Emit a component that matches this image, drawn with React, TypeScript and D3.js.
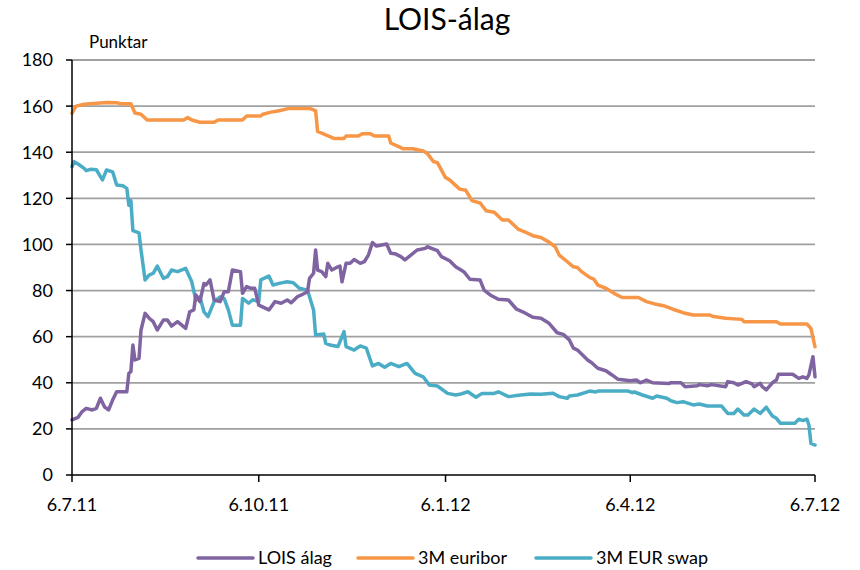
import React from "react";
import * as d3 from "d3";

// Observation days counted from 6 July 2011, and values in basis points
const START_DATE = "2011-07-06";
const END_DATE = "2012-07-06";

const tickDates = ["2011-07-06", "2011-10-06", "2012-01-06", "2012-04-06", "2012-07-06"];
const tickLabels = ["6.7.11", "6.10.11", "6.1.12", "6.4.12", "6.7.12"];
const yTicks = [0, 20, 40, 60, 80, 100, 120, 140, 160, 180];

const seriesNames = ["LOIS álag", "3M euribor", "3M EUR swap"];
const seriesColors = ["#8064A2", "#F79646", "#4BACC6"];

const loisDays = [0,3,5,7,10,12,14,16,18,20,22,27,28,29,30,31,33,34,36,38,40,42,45,47,49,52,56,58,60,61,63,65,66,68,70,73,75,77,79,83,84,86,88,90,92,97,100,103,106,108,111,113,116,117,119,120,121,123,125,126,128,131,132,133,135,137,139,142,144,146,148,150,155,157,159,162,164,166,170,174,175,180,182,186,189,193,196,201,203,206,210,215,219,222,227,231,235,239,242,245,247,249,254,256,259,263,266,269,272,275,278,280,283,286,294,295,300,302,308,309,313,315,322,323,326,328,332,335,336,339,340,342,345,347,348,355,358,360,362,363,365,366];
const loisValues = [23.9,25,27.5,28.9,28.2,28.9,33.3,29.6,28.2,32.5,36.1,36.1,44.1,44.8,56.4,49.9,50.6,62.9,70.1,68,66.5,62.9,67.2,67.2,64.6,66.5,63.6,70.8,71.6,78.1,75.2,83.1,82.4,84.6,75.9,75.2,79.5,79.5,88.9,88.2,78.8,81.7,81,81,73.7,71.6,75.2,74.5,75.9,74.7,77.3,78.1,79.5,85.3,87.5,97.6,88.9,88.2,86,91.8,88.9,90.3,90.6,83.8,91.8,91.8,93.5,91.8,92.5,95.4,100.8,99.3,100.2,96.2,96,94.7,93.3,94.7,97.6,98.3,99,97.3,94.7,92.9,90.3,88.2,84.9,84.6,80.2,78.1,76.2,75.9,71.9,70.8,68.4,68,65.8,61.7,61,58.6,55,54.2,49.9,48.7,46.3,45.2,43.4,41.5,41.2,40.9,41.2,40,41.2,40,39.7,40,40,38.3,38.7,39.2,38.7,39.2,38.3,40.5,40,39,40.5,39.5,38.3,39.8,38.3,36.9,40,41.2,43.7,43.7,41.9,42.6,41.9,43.4,51.3,42.6];

const euriborDays = [0,2,6,17,22,24,29,31,34,37,55,57,59,63,70,72,84,86,93,94,98,102,107,117,120,121,125,129,134,135,141,143,147,149,156,157,162,163,168,173,175,178,180,184,186,191,194,197,201,204,208,212,215,220,223,227,231,235,238,240,244,247,249,251,255,257,259,263,267,271,279,283,287,292,296,301,306,314,316,322,330,331,347,349,362,364,366];
const euriborValues = [157,160,160.8,161.6,161.5,161,161,157,156.5,154,154,155,154,153,153,154,154,155.7,155.7,156.5,157.4,158,159,159,158,149,147.5,146,146,147,147,148,148,147,147,144,142,141.5,141.5,140.5,139.5,136,135.5,129,128,124,123.5,119,118,114.6,114,110.6,110.6,106.5,105.5,103.8,103,101,99,95.4,92.5,90.3,90,88.2,85.7,85,82.4,81,78.8,77,77,75.2,74.2,73.3,71.9,70.4,69.4,69.4,68.7,68,67.5,66.5,66.5,65.5,65.5,63.6,55.6];

const swapDays = [0,1,3,6,7,9,12,15,17,20,22,25,27,28,29,30,33,34,36,38,40,42,45,47,49,52,56,59,61,63,65,67,70,73,75,77,79,83,84,87,89,92,93,97,99,102,106,109,112,116,119,120,124,125,127,131,134,135,139,142,145,148,151,154,157,161,165,169,173,176,180,185,189,191,195,199,202,208,210,215,221,226,231,237,240,244,245,249,255,258,259,274,276,277,281,286,288,293,295,298,301,306,309,313,320,323,326,328,331,333,336,339,342,345,347,349,356,358,360,362,363,364,366];
const swapValues = [133.7,135.9,134.9,133,132,132.6,132.4,128,132.3,131.5,125.8,125.5,124.3,117,119,106,105,97.6,84.6,86.7,87.5,90.6,85.3,86,88.9,88.2,89.6,83.8,75.9,77.3,70.8,68.7,75.2,77.3,76.5,71.6,65,65,76.6,74.5,76,75.2,84.6,86.3,82.4,83.1,83.8,83.4,81,80.2,71.6,60.7,61.2,57.1,56.4,55.7,62.2,55.7,54.2,56,55,47.3,48.4,46.7,48.4,47,48.4,44.1,42.6,39,38.6,35.4,34.7,35,36.1,33.7,35.4,35.4,36.1,34,34.7,35.1,35,35.5,34,33.3,34.3,34.7,36.4,36,36.4,36.4,35.7,36,34.7,33.3,34.3,33.3,32.2,31.4,31.8,30.4,30.8,29.9,29.9,26.7,26.7,28.6,26,26,28.6,26.7,29.4,25.6,24.6,22.4,22.4,24.2,23.6,24.2,21.7,13.7,13];

const FONT = "Lato, 'Open Sans', sans-serif";

export default function App() {
  const width = 860;
  const height = 570;
  const left = 72;
  const right = 815;
  const top = 60;
  const bottom = 475;

  const start = new Date(START_DATE + "T00:00:00Z");
  const end = new Date(END_DATE + "T00:00:00Z");
  const x = d3.scaleUtc().domain([start, end]).range([left, right]);
  const y = d3.scaleLinear().domain([0, 180]).range([bottom, top]);

  const toPoints = (days: number[], vals: number[]) =>
    days.map((d, i) => [d3.utcDay.offset(start, d), vals[i]] as [Date, number]);

  const series = [
    toPoints(loisDays, loisValues),
    toPoints(euriborDays, euriborValues),
    toPoints(swapDays, swapValues),
  ];

  const line = d3
    .line<[Date, number]>()
    .x((d) => x(d[0]))
    .y((d) => y(d[1]));

  const ticksX = tickDates.map((s) => new Date(s + "T00:00:00Z"));

  // draw order: orange, cyan, purple on top
  const drawOrder = [1, 2, 0];

  const legendX = [198, 358, 536];

  return (
    <svg
      width={width}
      height={height}
      style={{ position: "absolute", left: 0, top: 0, background: "#fff" }}
      fontFamily={FONT}
    >
      <rect x={0} y={0} width={width} height={height} fill="#fff" />
      <text x={447} y={30} textAnchor="middle" fontSize={30} fill="#000">
        LOIS-álag
      </text>
      <text x={89} y={48} fontSize={17} fill="#000">
        Punktar
      </text>

      {yTicks.map((t) => (
        <g key={"y" + t}>
          {t > 0 && (
            <line x1={left} x2={right} y1={y(t)} y2={y(t)} stroke="#A0A0A0" strokeWidth={1.8} />
          )}
          <line x1={left - 6} x2={left} y1={y(t)} y2={y(t)} stroke="#000" strokeWidth={1.5} />
          <text x={53} y={y(t)} dy="0.36em" textAnchor="end" fontSize={18} fill="#000">
            {t}
          </text>
        </g>
      ))}

      {drawOrder.map((i) => (
        <path
          key={"s" + i}
          d={line(series[i]) || ""}
          fill="none"
          stroke={seriesColors[i]}
          strokeWidth={3.5}
          strokeLinejoin="round"
          strokeLinecap="round"
        />
      ))}

      <line x1={left} x2={left} y1={top} y2={bottom} stroke="#000" strokeWidth={1.5} />
      <line x1={left} x2={right} y1={bottom} y2={bottom} stroke="#000" strokeWidth={1.5} />
      {ticksX.map((d, i) => (
        <g key={"x" + i}>
          <line x1={x(d)} x2={x(d)} y1={bottom} y2={bottom + 7} stroke="#000" strokeWidth={1.5} />
          <text x={x(d)} y={505} dy="0.36em" textAnchor="middle" fontSize={18} fill="#000">
            {tickLabels[i]}
          </text>
        </g>
      ))}

      {seriesNames.map((name, i) => (
        <g key={"l" + i}>
          <line
            x1={legendX[i]}
            x2={legendX[i] + 55}
            y1={558}
            y2={558}
            stroke={seriesColors[i]}
            strokeWidth={3.5}
            strokeLinecap="round"
          />
          <text x={legendX[i] + 60} y={558} dy="0.36em" fontSize={18} fill="#000">
            {name}
          </text>
        </g>
      ))}
    </svg>
  );
}
